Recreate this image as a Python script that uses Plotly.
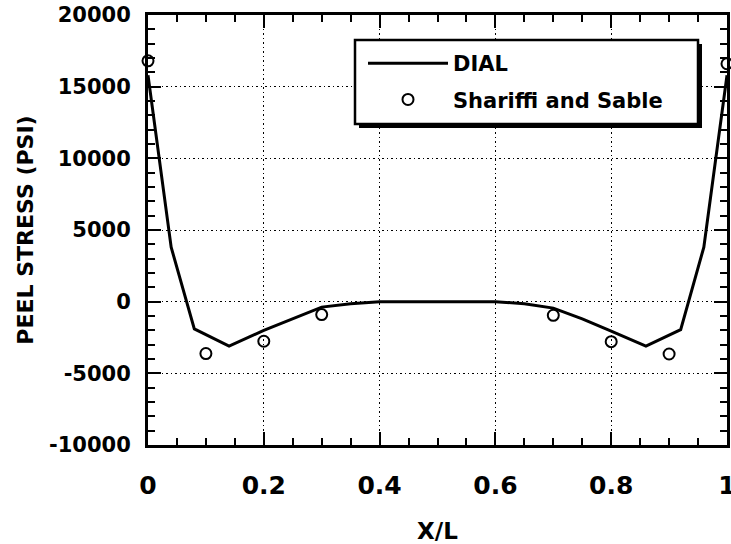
import plotly.graph_objects as go

# DIAL solution (solid line)
dial_x = [0.0, 0.04, 0.08, 0.14, 0.2, 0.25, 0.3, 0.35, 0.4, 0.6, 0.65, 0.7, 0.75, 0.8, 0.86, 0.92, 0.96, 1.0]
dial_y = [15800, 3800, -1900, -3100, -2000, -1200, -380, -150, 0, 0, -150, -450, -1200, -2050, -3100, -1950, 3800, 15800]

# Shariffi and Sable (open circles)
ss_x = [0.0, 0.1, 0.2, 0.3, 0.7, 0.8, 0.9, 1.0]
ss_y = [16800, -3620, -2760, -900, -950, -2790, -3650, 16600]

x_ticks = [0, 0.2, 0.4, 0.6, 0.8, 1]
x_tick_labels = ["0", "0.2", "0.4", "0.6", "0.8", "1"]
y_ticks = [-10000, -5000, 0, 5000, 10000, 15000, 20000]
y_tick_labels = ["-10000", "-5000", "0", "5000", "10000", "15000", "20000"]

FONT = "DejaVu Sans, Verdana, sans-serif"

fig = go.Figure()
fig.add_trace(go.Scatter(
    x=dial_x, y=dial_y, mode="lines", name="DIAL",
    line=dict(color="black", width=3), legendgroup="a"))
fig.add_trace(go.Scatter(
    x=ss_x, y=ss_y, mode="markers", name="Shariffi and Sable",
    marker=dict(symbol="circle-open", size=11, color="black", line=dict(width=2)),
    cliponaxis=False, legendgroup="b"))

# plot area in page pixels: x 148..727, y 15..445
L, R, T, B = 148, 727, 15, 445
W, H = 731, 544
def px(x):
    return (x - L) / (R - L)
def py(y):
    return (B - y) / (B - T)

shapes = [
    dict(type="rect", xref="paper", yref="paper",
         x0=px(359), x1=px(702), y0=py(128), y1=py(44),
         fillcolor="black", line=dict(width=0), layer="above"),
    dict(type="rect", xref="paper", yref="paper",
         x0=px(355), x1=px(698), y0=py(124), y1=py(40),
         fillcolor="white", line=dict(color="black", width=2.5), layer="above"),
]

fig.update_layout(
    width=W, height=H,
    margin=dict(l=L, r=W - R, t=T, b=H - B, autoexpand=False),
    paper_bgcolor="white", plot_bgcolor="white",
    font=dict(family=FONT, color="black", size=18, weight="bold"),
    showlegend=True,
    shapes=shapes,
    legend=dict(
        x=px(363), y=py(43), xanchor="left", yanchor="top",
        bgcolor="rgba(0,0,0,0)", borderwidth=0,
        font=dict(family=FONT, size=21, color="black", weight="bold"),
        itemwidth=80, tracegroupgap=6, traceorder="grouped",
    ),
    xaxis=dict(
        range=[0, 1], tickmode="array", tickvals=x_ticks, ticktext=x_tick_labels,
        automargin=False,
        showline=True, linecolor="black", linewidth=3, mirror="allticks",
        ticks="inside", ticklen=13, tickwidth=2, tickcolor="black",
        minor=dict(dtick=0.05, ticks="inside", ticklen=7, tickwidth=2, tickcolor="black", showgrid=False),
        showgrid=True, gridcolor="black", griddash="1.5px,3px", gridwidth=1,
        zeroline=False,
        tickfont=dict(family=FONT, size=25, weight="bold"),
        ticklabelstandoff=16, ticklabeloverflow="allow",
        title=dict(text="X/L", font=dict(family=FONT, size=23, weight="bold"), standoff=27),
    ),
    yaxis=dict(
        range=[-10000, 20000], tickmode="array", tickvals=y_ticks, ticktext=y_tick_labels,
        automargin=False,
        showline=True, linecolor="black", linewidth=3, mirror="allticks",
        ticks="inside", ticklen=13, tickwidth=2, tickcolor="black",
        minor=dict(dtick=1000, ticks="inside", ticklen=7, tickwidth=2, tickcolor="black", showgrid=False),
        showgrid=True, gridcolor="black", griddash="1.5px,3px", gridwidth=1,
        zeroline=False,
        tickfont=dict(family=FONT, size=21, weight="bold"),
        ticklabelstandoff=10, ticklabeloverflow="allow",
        title=dict(text="PEEL STRESS (PSI)", font=dict(family=FONT, size=22, weight="bold"), standoff=10),
    ),
)

# remove the default page margin and clip anything past the figure edge
post = ("document.body.style.margin='0';"
        "document.documentElement.style.overflow='hidden';"
        "document.body.style.overflow='hidden';"
        "var d=document.getElementById('{plot_id}'); if(d){d.style.overflow='hidden';}")

fig.write_html("out.html", post_script=post, config={"displayModeBar": False})
